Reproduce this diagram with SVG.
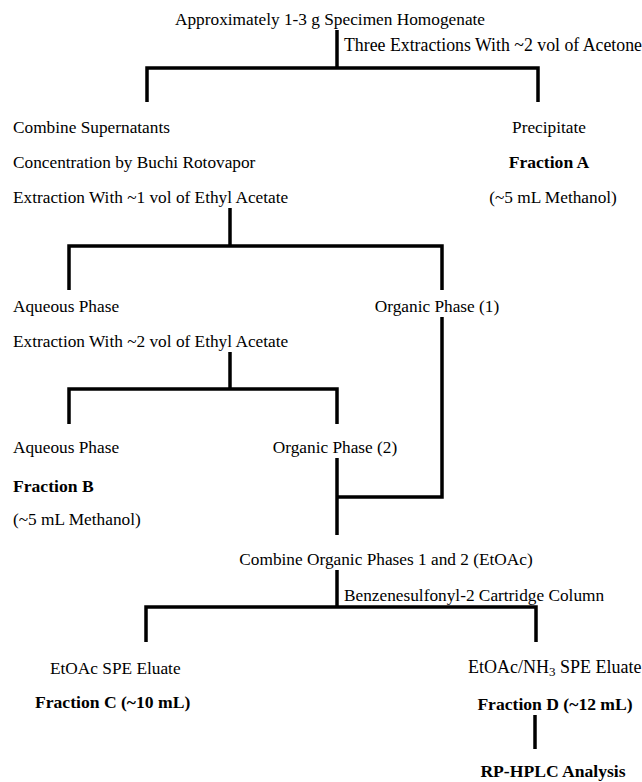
<svg xmlns="http://www.w3.org/2000/svg" width="642" height="782" viewBox="0 0 642 782">
<style>
text{font-family:"Liberation Serif","Times New Roman",serif;font-size:17.3px;fill:#000}
.b{font-weight:bold;font-size:17.6px}
.m{text-anchor:middle}
.ln{fill:none;stroke:#000;stroke-width:3.5;stroke-linejoin:miter;stroke-linecap:butt}
</style>
<rect width="642" height="782" fill="#fff"/>
<g id="connectors">
<path class="ln" d="M337,30 V68"/>
<path class="ln" d="M147,102 V68 H538 V102"/>
<path class="ln" d="M230,208 V246"/>
<path class="ln" d="M69,290 V246 H442 V290"/>
<path class="ln" d="M230,352 V389"/>
<path class="ln" d="M69,424 V389 H337 V424"/>
<path class="ln" d="M442,317 V497 H337"/>
<path class="ln" d="M337,458 V535"/>
<path class="ln" d="M337,570 V607"/>
<path class="ln" d="M146,642 V607 H536 V642"/>
<path class="ln" d="M535,715 V749"/>
</g>
<g id="n-homogenate"><text x="175" y="25">Approximately 1-3 g Specimen Homogenate</text></g>
<g id="e-acetone"><text x="344" y="51" style="font-size:17.8px">Three Extractions With ~2 vol of Acetone</text></g>
<g id="n-supernatants">
<text x="13" y="133">Combine Supernatants</text>
<text x="13" y="168">Concentration by Buchi Rotovapor</text>
<text x="13" y="203">Extraction With ~1 vol of Ethyl Acetate</text>
</g>
<g id="n-precipitate">
<text class="m" x="549" y="133">Precipitate</text>
<text class="b m" x="549" y="168">Fraction A</text>
<text class="m" x="553" y="203">(~5 mL Methanol)</text>
</g>
<g id="n-aqueous1">
<text x="13" y="312">Aqueous Phase</text>
<text x="13" y="347">Extraction With ~2 vol of Ethyl Acetate</text>
</g>
<g id="n-organic1"><text class="m" x="437" y="312">Organic Phase (1)</text></g>
<g id="n-aqueous2">
<text x="13" y="453">Aqueous Phase</text>
<text class="b" x="13" y="492">Fraction B</text>
<text x="13" y="525">(~5 mL Methanol)</text>
</g>
<g id="n-organic2"><text class="m" x="335" y="453">Organic Phase (2)</text></g>
<g id="n-combined">
<text class="m" x="386" y="565">Combine Organic Phases 1 and 2 (EtOAc)</text>
</g>
<g id="e-spe"><text x="344" y="601">Benzenesulfonyl-2 Cartridge Column</text></g>
<g id="n-fractionC">
<text x="50" y="674">EtOAc SPE Eluate</text>
<text class="b" x="35" y="708">Fraction C (~10 mL)</text>
</g>
<g id="n-fractionD">
<text x="468" y="673" style="font-size:18px">EtOAc/NH<tspan font-size="13" dy="3">3</tspan><tspan dy="-3"> SPE Eluate</tspan></text>
<text class="b m" x="555" y="710">Fraction D (~12 mL)</text>
</g>
<g id="n-hplc"><text class="b m" x="553" y="777">RP-HPLC Analysis</text></g>
</svg>
